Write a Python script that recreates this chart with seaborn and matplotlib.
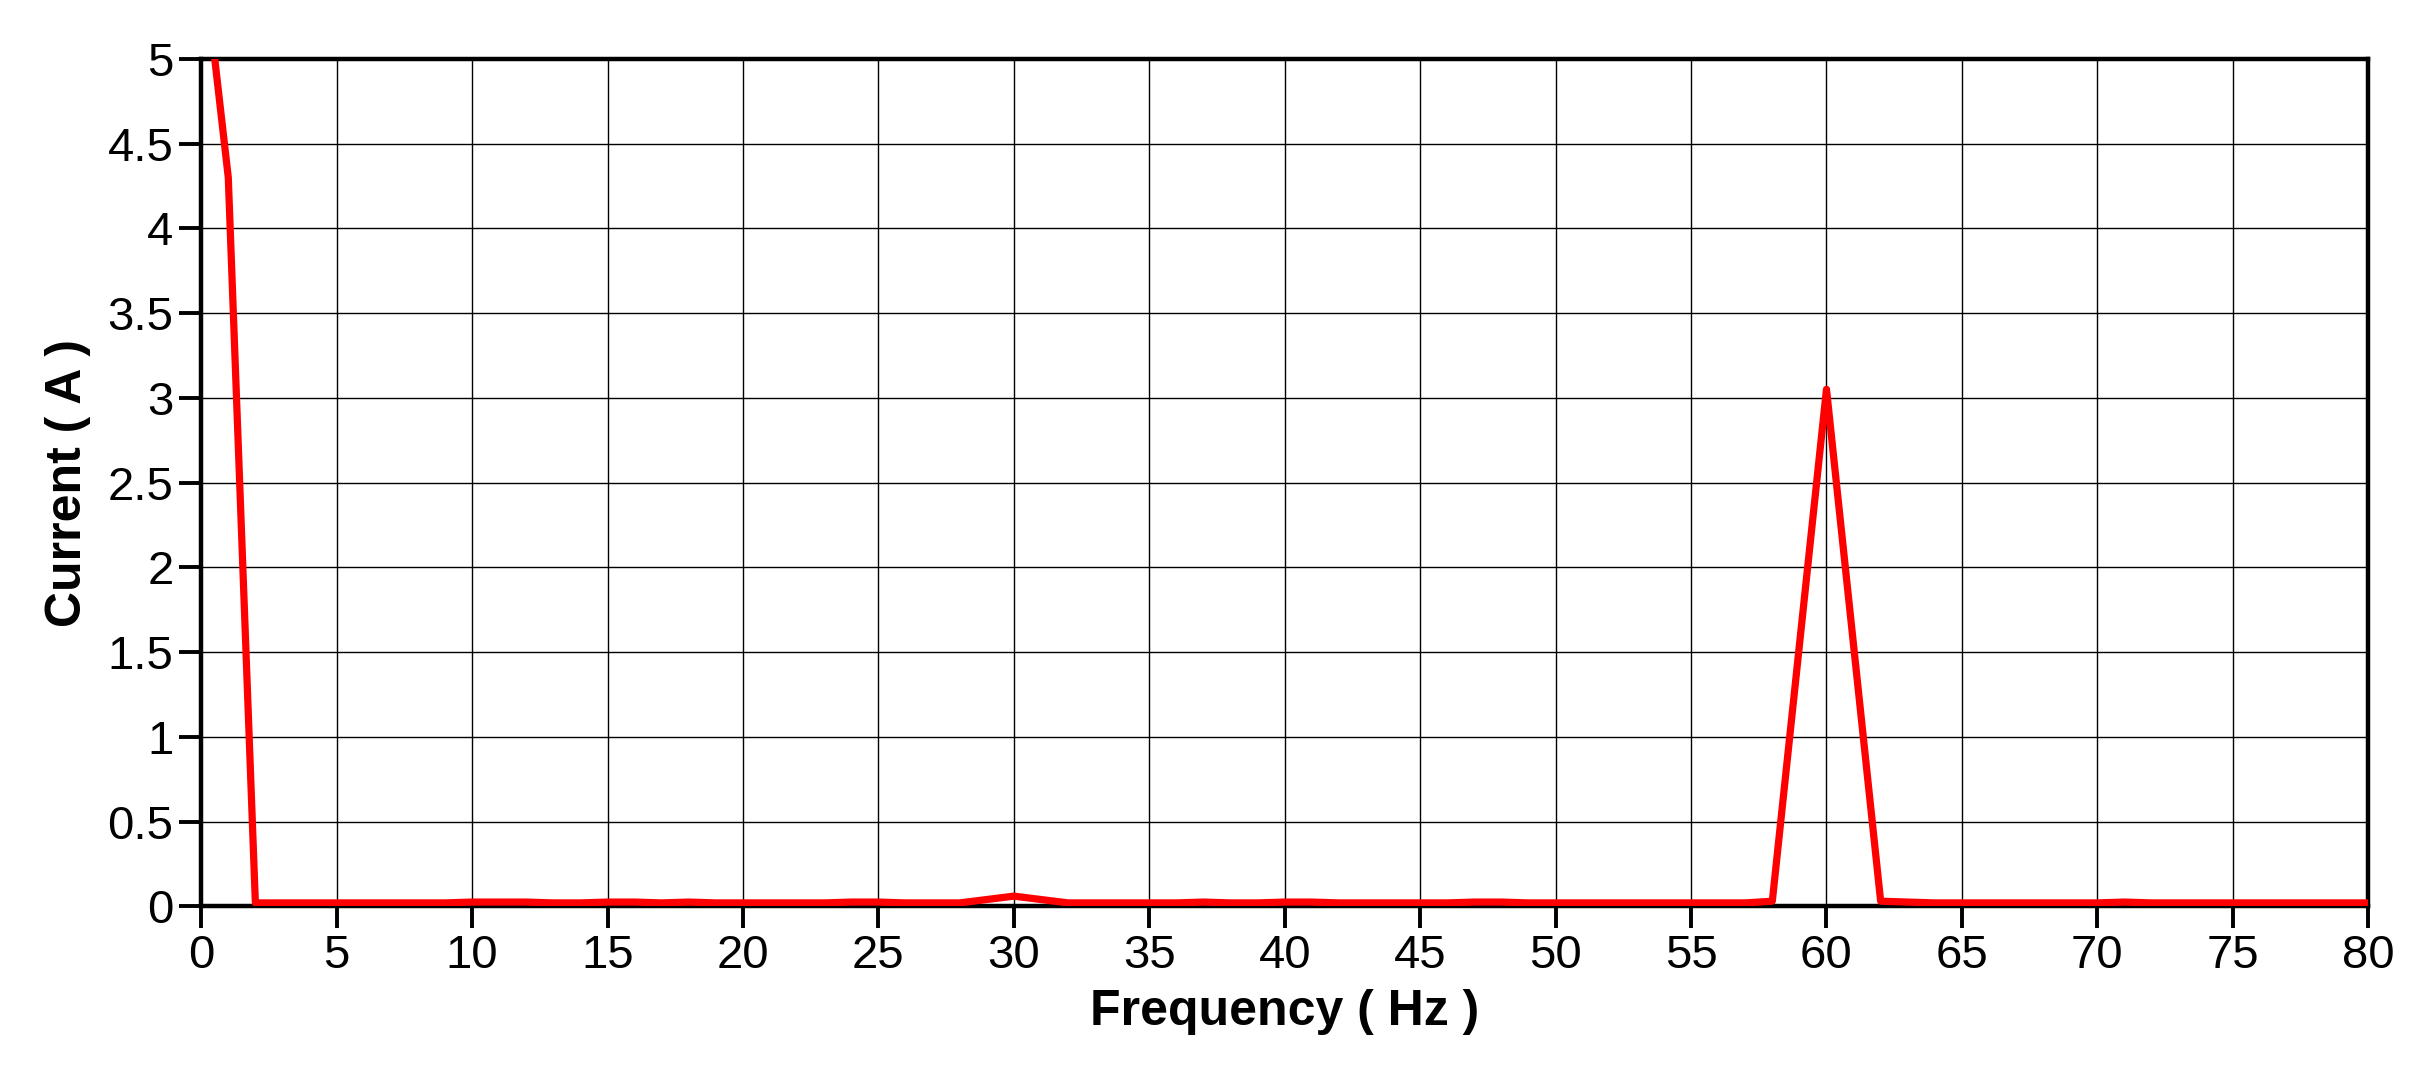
import matplotlib.pyplot as plt
import seaborn as sns
import pandas as pd

freq = [0.5, 1, 2, 3, 4, 5, 6, 7, 8, 9, 10, 11, 12, 13, 14, 15, 16, 17, 18, 19, 20,
        21, 22, 23, 24, 25, 26, 27, 28, 29, 30, 31, 32, 33, 34, 35, 36, 37, 38, 39, 40,
        41, 42, 43, 44, 45, 46, 47, 48, 49, 50, 51, 52, 53, 54, 55, 56, 57, 58, 60,
        62, 63, 64, 65, 66, 67, 68, 69, 70, 71, 72, 73, 74, 75, 76, 77, 78, 79, 80]
current = [5.0, 4.3, 0.02, 0.02, 0.02, 0.02, 0.02, 0.02, 0.02, 0.02, 0.025, 0.025, 0.025, 0.02, 0.02, 0.025, 0.025, 0.02, 0.025, 0.02, 0.02,
           0.02, 0.02, 0.02, 0.025, 0.025, 0.02, 0.02, 0.02, 0.04, 0.06, 0.04, 0.02, 0.02, 0.02, 0.02, 0.02, 0.025, 0.02, 0.02, 0.025,
           0.025, 0.02, 0.02, 0.02, 0.02, 0.02, 0.025, 0.025, 0.02, 0.02, 0.02, 0.02, 0.02, 0.02, 0.02, 0.02, 0.02, 0.03, 3.05,
           0.03, 0.025, 0.02, 0.02, 0.02, 0.02, 0.02, 0.02, 0.02, 0.025, 0.02, 0.02, 0.02, 0.02, 0.02, 0.02, 0.02, 0.02, 0.02]
df = pd.DataFrame({'freq': freq, 'current': current})

sns.set_style('white')
plt.rcParams['font.family'] = ['Liberation Sans', 'DejaVu Sans']
plt.rcParams['text.color'] = 'black'

fig = plt.figure(figsize=(12.12, 5.44), dpi=200)
ax = fig.add_axes([0.083, 0.167, 0.894, 0.779])
sns.lineplot(data=df, x='freq', y='current', color='red', linewidth=2.6, ax=ax, zorder=3)

ax.set_xlim(0, 80)
ax.set_ylim(0, 5)
ax.set_xticks(range(0, 81, 5))
ax.set_yticks([0, 0.5, 1, 1.5, 2, 2.5, 3, 3.5, 4, 4.5, 5])
ax.set_yticklabels(['0', '0.5', '1', '1.5', '2', '2.5', '3', '3.5', '4', '4.5', '5'])
ax.grid(True, color='black', linewidth=0.5)
for s in ax.spines.values():
    s.set_visible(True)
    s.set_color('black')
    s.set_linewidth(1.6)
ax.tick_params(axis='both', direction='out', length=8, width=1.4, labelsize=17, color='black',
               labelcolor='black', left=True, bottom=True, pad=2)
ax.set_xlabel('Frequency ( Hz )', fontsize=18, fontweight='bold', color='black', labelpad=4)
ax.set_ylabel('Current ( A )', fontsize=18, fontweight='bold', color='black', labelpad=6)

fig.savefig('out.png', dpi=200)
